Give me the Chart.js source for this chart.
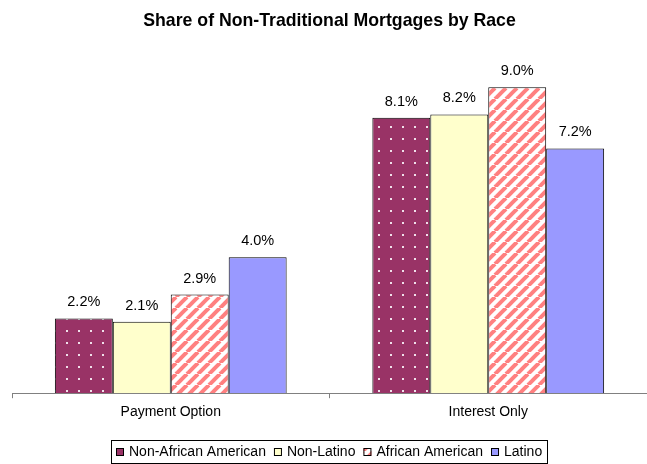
<!DOCTYPE html>
<html>
<head>
<meta charset="utf-8">
<script src="https://cdn.jsdelivr.net/npm/chart.js@4.4.0/dist/chart.umd.min.js"></script>
<style>
  html, body { margin: 0; padding: 0; background: #fff; }
  #wrap { width: 647px; height: 464px; }
</style>
</head>
<body>
<div id="wrap"><canvas id="mortgageChart" width="647" height="464"></canvas></div>
<script>
const categories = ["Payment Option", "Interest Only"];
const nonAfricanAmerican = [2.2, 8.1];
const nonLatino = [2.1, 8.2];
const africanAmerican = [2.9, 9.0];
const latino = [4.0, 7.2];

const FONT = "'Liberation Sans', Arial, sans-serif";

// dotted fill for Non-African American
function dotPattern() {
  const c = document.createElement("canvas");
  c.width = 12; c.height = 12;
  const g = c.getContext("2d");
  g.fillStyle = "#993366";
  g.fillRect(0, 0, 12, 12);
  g.fillStyle = "#f0e0ea";
  g.fillRect(6, 6, 2, 2);
  return g.createPattern(c, "repeat");
}

// diagonal stripes for African American
function stripePattern() {
  const c = document.createElement("canvas");
  c.width = 11; c.height = 11;
  const g = c.getContext("2d");
  g.fillStyle = "#ffffff";
  g.fillRect(0, 0, 11, 11);
  g.strokeStyle = "#ff8080";
  g.lineWidth = 4;
  for (let k = -11; k <= 22; k += 11) {
    g.beginPath();
    g.moveTo(k, 11);
    g.lineTo(k + 11, 0);
    g.stroke();
  }
  return g.createPattern(c, "repeat");
}

const valueLabels = {
  id: "valueLabels",
  afterDatasetsDraw(chart) {
    const ctx = chart.ctx;
    ctx.save();
    ctx.font = "14.5px " + FONT;
    ctx.fillStyle = "#000";
    ctx.textAlign = "center";
    ctx.textBaseline = "middle";
    chart.data.datasets.forEach((ds, i) => {
      chart.getDatasetMeta(i).data.forEach((bar, j) => {
        ctx.fillText(ds.data[j].toFixed(1) + "%", bar.x, bar.y - 16);
      });
    });
    ctx.restore();
  }
};

// legend drawn by hand: bordered box, small squares, tight spacing
const boxLegend = {
  id: "boxLegend",
  afterDraw(chart) {
    const ctx = chart.ctx;
    const ds = chart.data.datasets;
    ctx.save();
    ctx.font = "14px " + FONT;
    const sq = 8, gapText = 5, gapItem = 8, pad = 5;
    let total = pad * 2;
    ds.forEach((d, i) => {
      total += sq + gapText + ctx.measureText(d.label).width;
      if (i < ds.length - 1) total += gapItem;
    });
    const cx = (chart.chartArea.left + chart.chartArea.right) / 2;
    const left = Math.round(cx - total / 2);
    const top = 440, h = 23, cy = top + h / 2 + 0.5;
    ctx.strokeStyle = "#000";
    ctx.lineWidth = 1;
    ctx.strokeRect(left + 0.5, top + 0.5, Math.round(total), h);
    let x = left + pad;
    ctx.textBaseline = "middle";
    ctx.textAlign = "left";
    ds.forEach((d, i) => {
      const y = Math.round(cy - sq / 2);
      ctx.fillStyle = d.backgroundColor;
      ctx.fillRect(x, y, sq, sq);
      ctx.strokeStyle = "#000";
      ctx.strokeRect(x + 0.5, y + 0.5, sq - 1, sq - 1);
      x += sq + gapText;
      ctx.fillStyle = "#000";
      ctx.fillText(d.label, x, cy);
      x += ctx.measureText(d.label).width + gapItem;
    });
    ctx.restore();
  }
};

const ctx = document.getElementById("mortgageChart").getContext("2d");
new Chart(ctx, {
  type: "bar",
  data: {
    labels: categories,
    datasets: [
      { label: "Non-African American", data: nonAfricanAmerican, backgroundColor: dotPattern(), borderColor: "#000", borderWidth: 1 },
      { label: "Non-Latino", data: nonLatino, backgroundColor: "#ffffcc", borderColor: "#000", borderWidth: 1 },
      { label: "African American", data: africanAmerican, backgroundColor: stripePattern(), borderColor: "#000", borderWidth: 1 },
      { label: "Latino", data: latino, backgroundColor: "#9999ff", borderColor: "#000", borderWidth: 1 }
    ]
  },
  options: {
    responsive: false,
    animation: false,
    layout: { padding: { left: 12, right: 0, top: 0, bottom: 37 } },
    datasets: { bar: { barPercentage: 1, categoryPercentage: 0.73 } },
    plugins: {
      title: {
        display: true,
        text: "Share of Non-Traditional Mortgages by Race",
        color: "#000",
        font: { family: FONT, size: 17.7, weight: "bold" },
        padding: { top: 10, bottom: 22 }
      },
      legend: { display: false },
      tooltip: { enabled: false }
    },
    scales: {
      x: {
        grid: { display: true, offset: true, drawOnChartArea: false, tickLength: 5, color: "#808080" },
        border: { color: "#808080" },
        ticks: { color: "#000", padding: 6, font: { family: FONT, size: 14 } }
      },
      y: {
        display: false,
        min: 0,
        max: 10
      }
    }
  },
  plugins: [valueLabels, boxLegend]
});
</script>
</body>
</html>
